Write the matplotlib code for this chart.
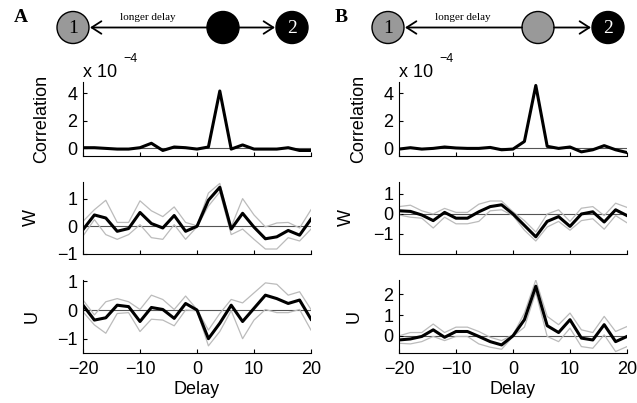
import numpy as np
import matplotlib
matplotlib.use("Agg")
import matplotlib.pyplot as plt
from matplotlib.patches import Circle

plt.rcParams['font.family'] = ['Liberation Sans', 'DejaVu Sans']
plt.rcParams['font.size'] = 13

# delays -20..20 step 2
delay = list(range(-20, 21, 2))

# panel A (x 1e-4)
corr_a = [0.05, 0.05, 0.0, -0.05, -0.05, 0.05, 0.37, -0.15, 0.1, 0.05, -0.05,
          0.1, 4.15, -0.05, 0.25, -0.05, -0.05, -0.05, 0.05, -0.15, -0.15]
w_a = [-0.12, 0.41, 0.3, -0.18, -0.08, 0.5, 0.1, -0.06, 0.39, -0.18, 0.0,
       0.94, 1.41, -0.1, 0.47, -0.03, -0.45, -0.38, -0.15, -0.32, 0.26]
w_a_hi = [0.18, 0.6, 0.94, 0.14, 0.14, 0.92, 0.56, 0.35, 0.7, 0.14, 0.02,
          1.2, 1.55, -0.02, 1.0, 0.41, -0.02, 0.12, 0.14, -0.06, 0.6]
w_a_lo = [-0.35, 0.24, -0.3, -0.47, -0.3, 0.06, -0.41, -0.47, 0.06, -0.47, -0.02,
          0.73, 1.24, -0.3, -0.1, -0.47, -0.82, -0.82, -0.41, -0.53, -0.1]
u_a = [0.17, -0.35, -0.27, 0.17, 0.12, -0.4, 0.09, 0.02, -0.29, 0.23, 0.0,
       -1.0, -0.46, 0.17, -0.4, 0.06, 0.52, 0.4, 0.23, 0.35, -0.32]
u_a_hi = [0.35, -0.17, 0.29, 0.4, 0.29, 0.02, 0.52, 0.37, 0.02, 0.49, 0.02,
          -0.7, -0.12, 0.37, 0.25, 0.6, 0.95, 0.9, 0.52, 0.64, 0.02]
u_a_lo = [-0.06, -0.52, -0.81, -0.12, -0.09, -0.75, -0.32, -0.35, -0.55, 0.0, -0.02,
          -1.25, -0.75, -0.02, -1.0, -0.35, 0.02, -0.09, -0.09, 0.02, -0.7]

# panel B
corr_b = [-0.05, 0.05, -0.05, 0.0, 0.1, 0.03, 0.0, 0.0, 0.07, -0.1, -0.05,
          0.5, 4.55, 0.15, 0.0, 0.1, -0.25, -0.1, 0.2, -0.1, -0.3]
w_b = [0.16, 0.13, -0.05, -0.33, 0.08, -0.21, -0.21, 0.11, 0.37, 0.46, 0.0,
       -0.57, -1.14, -0.37, -0.13, -0.62, 0.0, 0.11, -0.4, 0.21, -0.08]
w_b_hi = [0.37, 0.44, 0.16, 0.0, 0.28, 0.08, 0.08, 0.49, 0.65, 0.65, 0.11,
          -0.33, -0.9, 0.0, 0.21, -0.37, 0.29, 0.37, -0.08, 0.54, 0.33]
w_b_lo = [-0.05, -0.16, -0.21, -0.7, -0.16, -0.49, -0.49, -0.37, 0.16, 0.21, -0.08,
          -0.81, -1.35, -0.65, -0.37, -0.81, -0.33, -0.24, -0.76, -0.08, -0.44]
u_b = [-0.2, -0.15, -0.03, 0.29, -0.07, 0.21, 0.21, -0.03, -0.28, -0.44, 0.0,
       0.78, 2.4, 0.49, 0.16, 0.78, -0.11, -0.2, 0.54, -0.28, -0.03]
u_b_hi = [0.0, 0.16, 0.16, 0.57, 0.16, 0.42, 0.42, 0.21, -0.07, -0.23, 0.05,
          1.1, 2.7, 0.94, 0.54, 1.1, 0.29, 0.16, 0.94, 0.21, 0.45]
u_b_lo = [-0.36, -0.39, -0.28, -0.03, -0.23, -0.03, -0.03, -0.39, -0.55, -0.65, -0.03,
          0.42, 2.1, -0.03, -0.28, 0.37, -0.52, -0.6, 0.05, -0.76, -0.52]

W, H = 637, 403
fig = plt.figure(figsize=(W / 100, H / 100), dpi=100)


def px_axes(left, top, right, bottom):
    return fig.add_axes([left / W, 1 - bottom / H, (right - left) / W, (bottom - top) / H])


def style(ax, ylim, yticks, labx, label, show_x):
    ax.axhline(0, color='#555555', lw=0.8, zorder=1)
    ax.set_xlim(-20, 20)
    ax.set_ylim(*ylim)
    ax.set_yticks(yticks)
    ax.set_yticklabels([str(t).replace('-', '\u2212') for t in yticks])
    ax.set_xticks([-20, -10, 0, 10, 20])
    if show_x:
        ax.set_xticklabels(['\u221220', '\u221210', '0', '10', '20'])
        ax.set_xlabel('Delay', labelpad=2, fontsize=13)
    else:
        ax.set_xticklabels([])
    for s in ['top', 'right']:
        ax.spines[s].set_visible(False)
    for s in ['left', 'bottom']:
        ax.spines[s].set_linewidth(0.8)
    ax.tick_params(direction='in', length=3, width=0.8, labelsize=13, pad=4)
    ax.tick_params(axis='x', pad=6)
    ax.set_ylabel(label, fontsize=13)
    ax.yaxis.set_label_coords(labx, 0.5)


cols = [
    (83, 311, corr_a, (w_a, w_a_hi, w_a_lo), (u_a, u_a_hi, u_a_lo),
     ((-1, 1.6), [-1, 0, 1]), ((-1.5, 1.05), [-1, 0, 1]), (-0.145, -0.19, -0.185)),
    (399, 627, corr_b, (w_b, w_b_hi, w_b_lo), (u_b, u_b_hi, u_b_lo),
     ((-2, 1.6), [-1, 0, 1]), ((-0.83, 2.7), [0, 1, 2]), (-0.14, -0.193, -0.158)),
]

for left, right, corr, wser, user, wlim, ulim, labx in cols:
    ax = px_axes(left, 82, right, 156)
    ax.plot(delay, corr, color='black', lw=2.2, zorder=3)
    style(ax, (-0.55, 4.8), [0, 2, 4], labx[0], 'Correlation', False)
    ax.text(0, 1.07, 'x 10', transform=ax.transAxes, fontsize=13, va='baseline')
    ax.text(0.175, 1.27, '\u22124', transform=ax.transAxes, fontsize=9, va='baseline')

    ax = px_axes(left, 182, right, 254)
    ax.plot(delay, wser[1], color='#bbbbbb', lw=0.9, zorder=2)
    ax.plot(delay, wser[2], color='#bbbbbb', lw=0.9, zorder=2)
    ax.plot(delay, wser[0], color='black', lw=2.2, zorder=3)
    style(ax, wlim[0], wlim[1], labx[1], 'W', False)

    ax = px_axes(left, 280, right, 353)
    ax.plot(delay, user[1], color='#bbbbbb', lw=0.9, zorder=2)
    ax.plot(delay, user[2], color='#bbbbbb', lw=0.9, zorder=2)
    ax.plot(delay, user[0], color='black', lw=2.2, zorder=3)
    style(ax, ulim[0], ulim[1], labx[2], 'U', True)

# network diagrams on top
dg = fig.add_axes([0, 0, 1, 1], zorder=5)
dg.set_xlim(0, W)
dg.set_ylim(H, 0)
dg.axis('off')
dg.patch.set_alpha(0)

r = 16
cy = 27.5
diagrams = [
    ('A', 21, (73, 223, 292), '#999999', 'black'),
    ('B', 341, (388, 538, 608), '#999999', '#999999'),
]
for letter, lx, (c1, cm, c2), col1, colm in diagrams:
    dg.text(lx, 17, letter, fontsize=14, fontweight='bold', family='Liberation Serif',
            ha='center', va='center')
    dg.add_patch(Circle((c1, cy), r, facecolor=col1, edgecolor='black', lw=1))
    dg.add_patch(Circle((cm, cy), r, facecolor=colm, edgecolor='black', lw=1))
    dg.add_patch(Circle((c2, cy), r, facecolor='black', edgecolor='black', lw=1))
    dg.text(c1, cy + 1, '1', fontsize=14, family='Liberation Serif', ha='center', va='center')
    dg.text(c2, cy + 1, '2', fontsize=14, family='Liberation Serif', ha='center', va='center',
            color='white')
    aprops = dict(arrowstyle='->,head_length=0.7,head_width=0.45', lw=1.3, color='black',
                  shrinkA=0, shrinkB=0, mutation_scale=10)
    dg.annotate('', xy=(c1 + r + 1, cy), xytext=(cm - r, cy), arrowprops=aprops)
    dg.annotate('', xy=(c2 - r - 1, cy), xytext=(cm + r, cy), arrowprops=aprops)
    dg.text((c1 + cm) / 2, 20, 'longer delay', fontsize=8, family='Liberation Serif',
            ha='center', va='baseline')

fig.savefig('out.png', dpi=100)
